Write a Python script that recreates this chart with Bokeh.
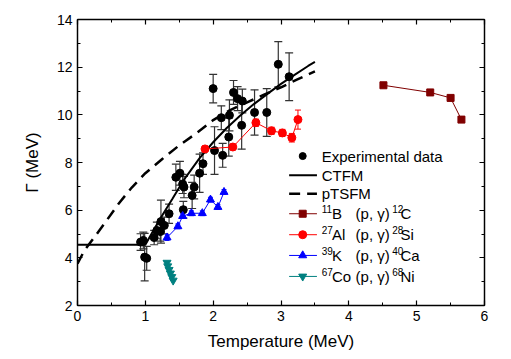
from bokeh.plotting import figure
from bokeh.models import (Range1d, LinearAxis, SingleIntervalTicker, Whisker,
                          TeeHead, ColumnDataSource, CustomJSTickFormatter)
from bokeh.core.properties import value
from bokeh.embed import file_html
from bokeh.resources import INLINE

FONT = "Liberation Sans"

# Experimental GDR widths (temperature, width, uncertainty), MeV
exp_T = [0.93, 0.97, 0.99, 1.02, 1.13, 1.17, 1.22, 1.23, 1.28, 1.35, 1.45, 1.51,
         1.55, 1.57, 1.56, 1.69, 1.72, 1.80, 1.85, 2.00, 2.02, 2.12, 2.14, 2.23,
         2.24, 2.30, 2.36, 2.43, 2.42, 2.61, 2.79, 2.96, 3.12]
exp_G = [4.66, 4.73, 4.03, 3.98, 4.85, 5.15, 5.10, 5.52, 5.36, 5.85, 7.38, 7.55,
         7.10, 6.97, 6.02, 6.62, 6.97, 7.55, 7.95, 11.10, 8.50, 9.88, 8.30, 9.07,
         9.98, 10.94, 10.68, 10.58, 9.56, 10.10, 10.10, 12.12, 11.60]
exp_err = [0.35, 0.35, 1.00, 0.50, 0.30, 0.35, 0.40, 0.90, 0.35, 0.40, 0.55, 0.50,
           0.40, 0.45, 0.35, 0.55, 0.50, 0.80, 0.45, 0.60, 1.00, 0.50, 0.50, 0.80,
           0.65, 0.50, 0.50, 0.50, 1.00, 0.95, 1.00, 0.95, 1.00]

# CTFM curve
ctfm_T = [0.0, 1.0, 1.1, 1.2, 1.3, 1.4, 1.5, 1.6, 1.8, 2.0, 2.2, 2.4, 2.6, 2.8,
          3.0, 3.2, 3.4, 3.5]
ctfm_G = [4.55, 4.55, 5.05, 5.55, 6.02, 6.48, 6.95, 7.40, 8.18, 8.85, 9.45, 9.97,
          10.45, 10.88, 11.30, 11.68, 12.05, 12.22]

# pTSFM curve
ptsfm_T = [0.0, 0.1, 0.25, 0.4, 0.6, 0.8, 1.0, 1.25, 1.5, 1.75, 2.0, 2.25, 2.5,
           2.75, 3.0, 3.25, 3.5]
ptsfm_G = [3.75, 4.30, 4.87, 5.45, 6.25, 6.95, 7.55, 8.15, 8.72, 9.22, 9.78,
           10.20, 10.52, 10.85, 11.15, 11.50, 11.82]

# 11B(p,g)12C
b_T = [4.51, 5.20, 5.50, 5.66]
b_G = [11.24, 10.94, 10.71, 9.80]
b_err = [0.10, 0.08, 0.08, 0.10]

# 27Al(p,g)28Si
al_T = [1.88, 2.29, 2.63, 2.86, 3.02, 3.16, 3.25]
al_G = [8.57, 8.65, 9.67, 9.33, 9.24, 9.04, 9.80]
al_err = [0.12, 0.12, 0.15, 0.15, 0.15, 0.18, 0.40]

# 39K(p,g)40Ca
k_T = [1.32, 1.48, 1.55, 1.68, 1.84, 1.96, 2.07, 2.16]
k_G = [4.85, 5.32, 5.75, 5.87, 5.87, 6.44, 6.13, 6.76]
k_err = [0.12, 0.10, 0.10, 0.10, 0.10, 0.10, 0.10, 0.10]

# 67Co(p,g)68Ni
co_T = [1.32, 1.33, 1.35, 1.37, 1.39, 1.41]
co_G = [3.80, 3.65, 3.50, 3.35, 3.20, 3.05]

BROWN = "#800000"
RED = "#ff0000"
BLUE = "#0000ff"
TEAL = "#008080"

p = figure(width=511, height=359, output_backend="svg", toolbar_location=None,
           x_range=Range1d(0, 6), y_range=Range1d(2, 14),
           min_border_left=77, min_border_right=27, min_border_top=19,
           min_border_bottom=54)
p.xgrid.visible = False
p.ygrid.visible = False
p.outline_line_color = "black"
p.outline_line_width = 1.2
p.background_fill_color = "white"
p.border_fill_color = "white"


def style_axis(ax, ticker, show_labels=True):
    ax.ticker = ticker
    ax.axis_line_color = "black"
    ax.axis_line_width = 1.3
    ax.major_tick_in = 5
    ax.major_tick_out = 0
    ax.minor_tick_in = 3
    ax.minor_tick_out = 0
    ax.major_tick_line_width = 1.2
    ax.minor_tick_line_width = 1.0
    ax.major_label_text_font = FONT
    if show_labels:
        ax.major_label_text_font_size = "14px"
        ax.major_label_standoff = 5
        ax.axis_label_text_font = FONT
        ax.axis_label_text_font_size = "17px"
        ax.axis_label_text_font_style = "normal"
        ax.axis_label_text_color = "black"
        ax.major_label_text_color = "black"
    else:
        # mirror axis: ticks only
        ax.formatter = CustomJSTickFormatter(code="return ''")
        ax.major_label_standoff = 0


xt = lambda: SingleIntervalTicker(interval=1, num_minor_ticks=2)
yt = lambda: SingleIntervalTicker(interval=2, num_minor_ticks=2)

style_axis(p.xaxis[0], xt())
style_axis(p.yaxis[0], yt())
p.xaxis[0].axis_label = "Temperature (MeV)"
p.xaxis[0].axis_label_standoff = 8
p.yaxis[0].axis_label = "Γ (MeV)"
p.yaxis[0].axis_label_standoff = 12

top = LinearAxis()
right = LinearAxis()
style_axis(top, xt(), show_labels=False)
style_axis(right, yt(), show_labels=False)
p.add_layout(top, "above")
p.add_layout(right, "right")


def add_errors(T, G, err, color, cap=8, width=1.0):
    src = ColumnDataSource(dict(x=T,
                                lo=[g - e for g, e in zip(G, err)],
                                hi=[g + e for g, e in zip(G, err)]))
    w = Whisker(source=src, base="x", lower="lo", upper="hi",
                dimension="height", line_color=color, line_width=width,
                upper_head=TeeHead(size=cap, line_color=color, line_width=width),
                lower_head=TeeHead(size=cap, line_color=color, line_width=width))
    p.add_layout(w)


# theory curves
p.line(ctfm_T, ctfm_G, line_color="black", line_width=2)
p.line(ptsfm_T, ptsfm_G, line_color="black", line_width=2.5, line_dash="11 7")

# experimental data
add_errors(exp_T, exp_G, exp_err, "#333333", cap=8, width=1.2)
p.scatter(exp_T, exp_G, marker="circle", size=8, fill_color="black",
          line_color="black")

# simulated reactions
add_errors(b_T, b_G, b_err, BROWN, cap=6)
p.line(b_T, b_G, line_color=BROWN, line_width=1)
p.scatter(b_T, b_G, marker="square", size=7, fill_color=BROWN, line_color=BROWN)

add_errors(al_T, al_G, al_err, RED, cap=6)
p.line(al_T, al_G, line_color=RED, line_width=1)
p.scatter(al_T, al_G, marker="circle", size=8, fill_color=RED, line_color=RED)

add_errors(k_T, k_G, k_err, BLUE, cap=5)
p.line(k_T, k_G, line_color=BLUE, line_width=1)
p.scatter(k_T, k_G, marker="triangle", size=8, fill_color=BLUE, line_color=BLUE)

p.line(co_T, co_G, line_color=TEAL, line_width=1)
p.scatter(co_T, co_G, marker="inverted_triangle", size=8, fill_color=TEAL,
          line_color=TEAL)

# legend, drawn in data space
lx0, lx1, lxm, ltx = 3.12, 3.53, 3.32, 3.60
rows = [8.27, 7.47, 6.69, 5.85, 4.97, 4.10, 3.22]

p.scatter([lxm], [rows[0]], marker="circle", size=7, fill_color="black",
          line_color="black")
p.line([lx0, lx1], [rows[1], rows[1]], line_color="black", line_width=2)
p.line([lx0, lx1], [rows[2], rows[2]], line_color="black", line_width=2.5,
       line_dash="11 7")

series_styles = [(BROWN, "square", 7), (RED, "circle", 8), (BLUE, "triangle", 8),
                 (TEAL, "inverted_triangle", 8)]
for (color, marker, size), y in zip(series_styles, rows[3:]):
    p.line([lx0, lx1], [y, y], line_color=color, line_width=1)
    p.scatter([lxm], [y], marker=marker, size=size, fill_color=color,
              line_color=color)

main_text = ["Experimental data", "CTFM", "pTSFM"]
p.text([ltx] * 3, rows[:3], text=main_text, text_font=value(FONT),
       text_font_size="15px", text_baseline="middle", text_color="black")

targets = ["B", "Al", "K", "Co"]
targets_A = ["11", "27", "39", "67"]
products = ["C", "Si", "Ca", "Ni"]
products_A = ["12", "28", "40", "68"]
ys = rows[3:]
p.text([ltx] * 4, [y + 0.2 for y in ys], text=targets_A, text_font=value(FONT),
       text_font_size="10px", text_baseline="middle", text_color="black")
p.text([3.75] * 4, ys, text=targets, text_font=value(FONT),
       text_font_size="15px", text_baseline="middle", text_color="black")
p.text([4.10] * 4, ys, text=["(p, γ)"] * 4, text_font=value(FONT),
       text_font_size="15px", text_baseline="middle", text_color="black")
p.text([4.64] * 4, [y + 0.2 for y in ys], text=products_A,
       text_font=value(FONT), text_font_size="10px", text_baseline="middle",
       text_color="black")
p.text([4.76] * 4, ys, text=products, text_font=value(FONT),
       text_font_size="15px", text_baseline="middle", text_color="black")

open("out.html", "w").write(file_html(p, INLINE))
